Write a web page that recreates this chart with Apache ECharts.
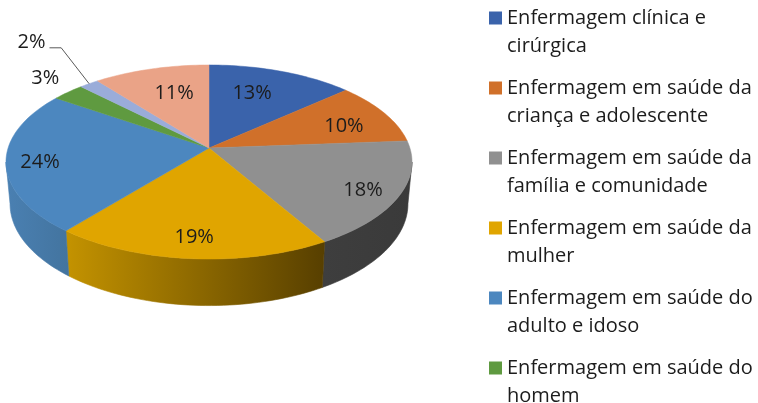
<!DOCTYPE html>
<html><head><meta charset="utf-8">
<style>html,body{margin:0;padding:0;background:#fff}#c{width:758px;height:403px}</style>
<script src="https://cdn.jsdelivr.net/npm/echarts@6/dist/echarts.min.js"></script>
</head><body><div id="c"></div>
<script>
// ---- data ----
const categories = [
  'Enfermagem clínica e\ncirúrgica',
  'Enfermagem em saúde da\ncriança e adolescente',
  'Enfermagem em saúde da\nfamília e comunidade',
  'Enfermagem em saúde da\nmulher',
  'Enfermagem em saúde do\nadulto e idoso',
  'Enfermagem em saúde do\nhomem',
  'Categoria 7',
  'Categoria 8'
];
const shareValues = [13.4, 10.4, 17.8, 19.3, 23.7, 3.0, 1.8, 10.6];
const shownLabels = ['13%', '10%', '18%', '19%', '24%', '3%', '2%', '11%'];
const legendCategories = categories.slice(0, 6);

// ---- styles ----
const topColors = ['#3a63ab', '#d0702a', '#909090', '#e0a500', '#4c87bf', '#5f9a40', '#9aacd9', '#eaa387'];
const wallColors = [null, null,
  ['#3e3e3e', '#3a3a3a'],
  ['#c49300', '#573f00'],
  ['#4a80b2', '#43749f'],
  null, null, null];
const labelRadius = [0.674, 0.735, 0.832, 0.827, 0.836, 1.226, 1.695, 0.66];
const labelShiftDeg = [-3.8, 4, 2.3, 0, -1.8, 2, 3, 2.4];

// ---- projection of the tilted disc ----
const view = { cx: 209, cy: 148, rx: 200.9, ry: 95, k: 0.1443,
               baseSx: 0.98, baseSy: 1.05, depth: 41 };
function project(r, deg, base) {
  const t = deg * Math.PI / 180;
  const x = r * Math.sin(t), y = -r * Math.cos(t), d = 1 - view.k * y;
  const X = view.rx * x / d, Y = view.ry * y / d;
  return base
    ? [view.cx + X * view.baseSx, view.cy + Y * view.baseSy + view.depth]
    : [view.cx + X, view.cy + Y];
}
function arc(from, to, base) {
  const n = Math.max(2, Math.ceil((to - from) / 1.5)), out = [];
  for (let i = 0; i <= n; i++) out.push(project(1, from + (to - from) * i / n, base));
  return out;
}
const total = shareValues.reduce((a, b) => a + b, 0);
const starts = [];
shareValues.reduce((acc, v, i) => { starts[i] = acc / total * 360; return acc + v; }, 0);
const wallFrom = 98.3, wallTo = 261.7;

function renderSlice(i) {
  return function (params, api) {
    const a0 = starts[i], a1 = a0 + api.value(0) / total * 360, mid = (a0 + a1) / 2;
    const kids = [];
    const lo = Math.max(a0, wallFrom), hi = Math.min(a1, wallTo);
    if (hi > lo && wallColors[i]) {
      const pts = arc(lo, hi, false).concat(arc(lo, hi, true).reverse());
      const grad = () => new echarts.graphic.LinearGradient(0, 0, 1, 0, [
        { offset: 0, color: wallColors[i][0] }, { offset: 1, color: wallColors[i][1] }]);
      kids.push({ type: 'polygon', shape: { points: pts }, z2: 1,
        style: { fill: grad(), stroke: grad(), lineWidth: 0.6 } });
    }
    kids.push({ type: 'polygon', shape: { points: [[view.cx, view.cy]].concat(arc(a0, a1, false)) },
      z2: 2, style: { fill: topColors[i], stroke: topColors[i], lineWidth: 0.5 } });
    const lab = project(labelRadius[i], mid + labelShiftDeg[i], false);
    kids.push({ type: 'text', z2: 5, x: lab[0], y: lab[1], style: {
      text: shownLabels[i], align: 'center', verticalAlign: 'middle',
      font: '20px "Open Sans"', fill: '#1c1c1c' } });
    if (labelRadius[i] > 1.5) {
      const e = project(1, mid, false);
      kids.push({ type: 'polyline', z2: 4, shape: { points: [
        [lab[0] + 18, lab[1] + 5.7], [lab[0] + 29.7, lab[1] + 5.7], e] },
        style: { stroke: '#595959', lineWidth: 1, fill: 'none' } });
    }
    return { type: 'group', children: kids };
  };
}

const chart = echarts.init(document.getElementById('c'));
chart.setOption({
  animation: false,
  backgroundColor: '#ffffff',
  color: topColors,
  legend: {
    orient: 'vertical', left: 484, top: -29, height: 600, itemGap: -14, itemWidth: 13, itemHeight: 13,
    data: legendCategories, selectedMode: false,
    icon: 'rect',
    formatter: n => '\n' + n,
    textStyle: { fontFamily: 'Open Sans', fontSize: 20, lineHeight: 28, color: '#1c1c1c' }
  },
  series: categories.map((name, i) => ({
    type: 'custom', name, coordinateSystem: 'none',
    data: [[shareValues[i]]],
    z: 2,
    itemStyle: { color: topColors[i] },
    renderItem: renderSlice(i)
  }))
});
</script></body></html>
